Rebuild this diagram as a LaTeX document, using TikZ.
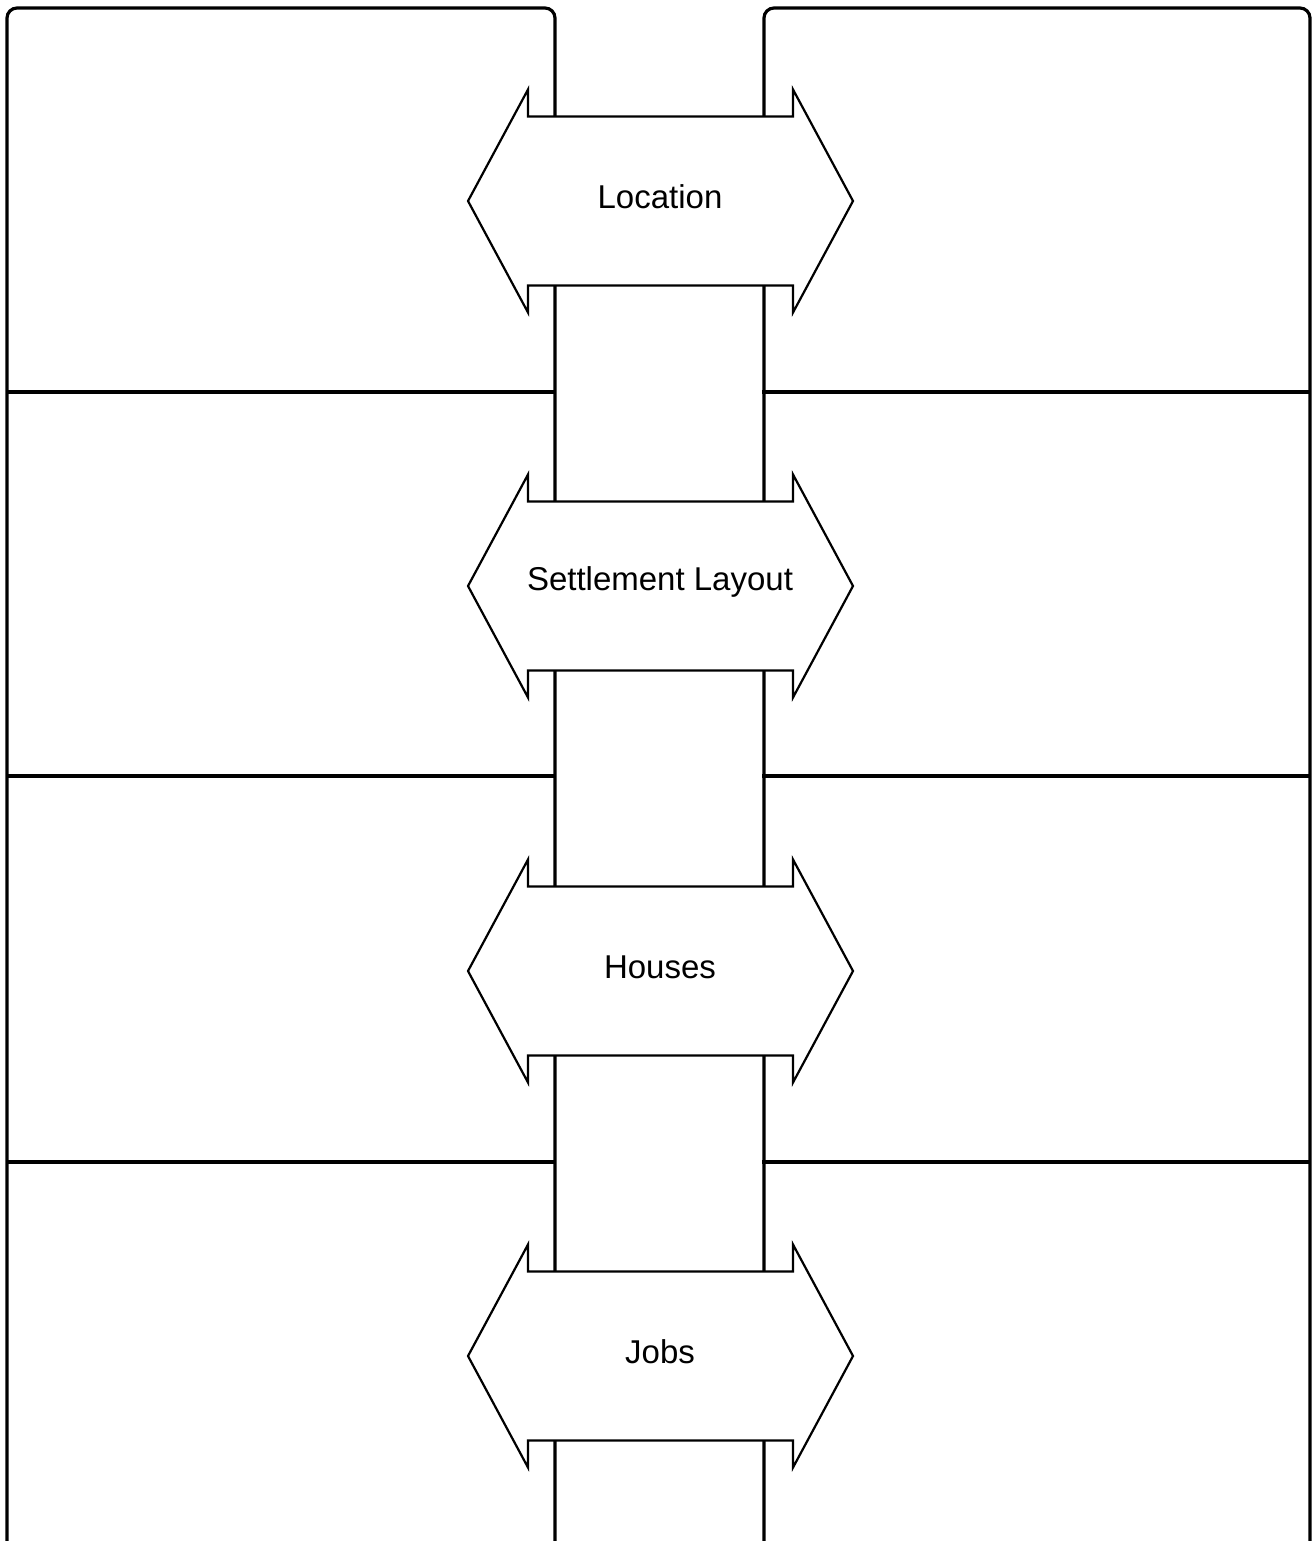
\documentclass[tikz,border=0pt]{standalone}
\usepackage{fontspec}
\setmainfont{Liberation Sans}
\begin{document}
\begin{tikzpicture}[x=0.5pt,y=-0.5pt,
  panel/.style={line width=1.6pt,rounded corners=5pt},
  divider/.style={line width=1.6pt},
  dblarrow/.style={line width=1.1pt,fill=white,line join=miter},
  lbl/.style={font=\fontsize{16.5}{19}\selectfont,inner sep=0pt}]
\useasboundingbox (0,0) rectangle (1316,1541);
% panels
\draw[panel] (7,1560) -- (7,8) -- (555,8) -- (555,1560);
\draw[panel] (764,1560) -- (764,8) -- (1310,8) -- (1310,1560);
% dividers
\foreach \y in {392,776,1162}{
  \draw[divider] (7,\y) -- (555,\y);
  \draw[divider] (762,\y) -- (1310,\y);
}
% double arrows
\foreach \cy/\t/\n in {201/Location/loc,586/Settlement Layout/lay,971/Houses/hou,1356/Jobs/job}{
  \draw[dblarrow] (468,\cy) -- (528,\cy-111.5) -- (528,\cy-84.5) -- (793,\cy-84.5) -- (793,\cy-111.5)
     -- (853,\cy) -- (793,\cy+111.5) -- (793,\cy+84.5) -- (528,\cy+84.5) -- (528,\cy+111.5) -- cycle;
  \node[lbl] (\n) at (660,\cy-4) {\t};
}
\end{tikzpicture}
\end{document}
